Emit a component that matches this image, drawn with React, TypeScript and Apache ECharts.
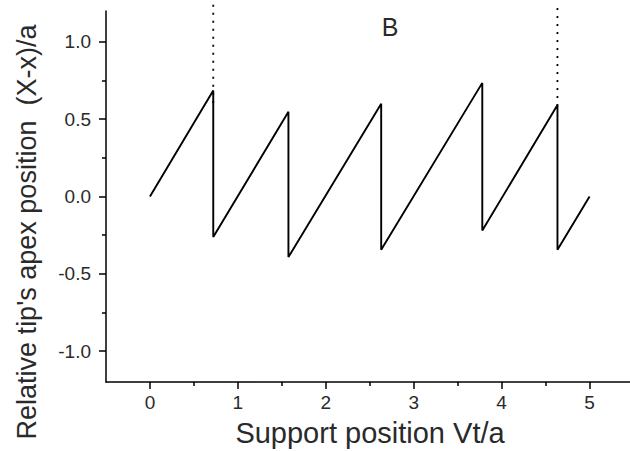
import React, { useEffect, useRef } from "react";
import * as echarts from "echarts";

// Sawtooth of the relative tip apex position vs support position
const sawX = [0, 0.72, 0.72, 1.575, 1.575, 2.63, 2.63, 3.78, 3.78, 4.635, 4.635, 5.0];
const sawY = [0, 0.685, -0.262, 0.548, -0.392, 0.6, -0.345, 0.735, -0.22, 0.592, -0.345, 0.0];

// Dotted vertical markers
const markX = [0.72, 4.635];
const markTop = [1.24, 1.22];
const markBottom = [0.57, 0.59];

const xMajor = [0, 1, 2, 3, 4, 5];
const xMinor = [0.5, 1.5, 2.5, 3.5, 4.5];
const yMajor = [-1.0, -0.5, 0.0, 0.5, 1.0];
const yMinor = [-0.75, -0.25, 0.25, 0.75];

const xTitle = "Support position Vt/a";
const yTitle = "Relative tip's apex position  (X-x)/a";
const panelLabel = "B";

const FONT = "'Liberation Sans', Arial, sans-serif";

export default function App() {
  const ref = useRef<HTMLDivElement>(null);
  useEffect(() => {
    if (!ref.current) return;
    const chart = echarts.init(ref.current, null, { renderer: "svg" });
    const axisCommon = { onZero: false, lineStyle: { color: "#000", width: 1.5 } };
    const xMin = -0.5, xMax = 5.46, yMin = -1.2, yMax = 1.2;
    const series: any[] = [
      {
        type: "line",
        data: sawX.map((x, i) => [x, sawY[i]]),
        symbol: "none",
        lineStyle: { color: "#000", width: 1.9 },
        clip: false,
      },
    ];
    markX.forEach((x, i) => {
      series.push({
        type: "line",
        data: [
          [x, markTop[i]],
          [x, markBottom[i]],
        ],
        symbol: "none",
        clip: false,
        lineStyle: { color: "#000", width: 1.8, type: [2, 6] },
      });
    });
    chart.setOption({
      animation: false,
      backgroundColor: "#fff",
      grid: { left: 106, top: 11, width: 524, height: 371, containLabel: false },
      xAxis: [
        {
          type: "value",
          min: xMin,
          max: xMax,
          axisLine: { show: true, ...axisCommon },
          axisTick: { show: true, customValues: xMajor, length: 7, lineStyle: { color: "#000", width: 1.5 } },
          axisLabel: {
            customValues: xMajor,
            fontSize: 19,
            fontFamily: FONT,
            color: "#2a2a2a",
            margin: 11,
            formatter: (v: number) => String(Math.round(v)),
          },
          splitLine: { show: false },
        },
        {
          type: "value",
          min: xMin,
          max: xMax,
          position: "bottom",
          axisLine: { show: false, onZero: false },
          axisTick: { show: true, customValues: xMinor, length: 4, lineStyle: { color: "#000", width: 1.5 } },
          axisLabel: { show: false },
          splitLine: { show: false },
        },
      ],
      yAxis: [
        {
          type: "value",
          min: yMin,
          max: yMax,
          axisLine: { show: true, ...axisCommon },
          axisTick: { show: true, customValues: yMajor, length: 7, lineStyle: { color: "#000", width: 1.5 } },
          axisLabel: {
            customValues: yMajor,
            fontSize: 19,
            fontFamily: FONT,
            color: "#2a2a2a",
            margin: 15,
            formatter: (v: number) => v.toFixed(1),
          },
          splitLine: { show: false },
        },
        {
          type: "value",
          min: yMin,
          max: yMax,
          position: "left",
          axisLine: { show: false, onZero: false },
          axisTick: { show: true, customValues: yMinor, length: 4, lineStyle: { color: "#000", width: 1.5 } },
          axisLabel: { show: false },
          splitLine: { show: false },
        },
      ],
      series,
      graphic: [
        {
          type: "text",
          x: 27,
          y: 232,
          rotation: Math.PI / 2,
          style: {
            text: yTitle,
            fontSize: 27,
            fontFamily: FONT,
            fill: "#2a2a2a",
            align: "center",
            verticalAlign: "middle",
          },
        },
        {
          type: "text",
          x: 370,
          y: 433,
          style: {
            text: xTitle,
            fontSize: 29,
            fontFamily: FONT,
            fill: "#2a2a2a",
            align: "center",
            verticalAlign: "middle",
          },
        },
        {
          type: "text",
          x: 390,
          y: 27,
          style: {
            text: panelLabel,
            fontSize: 25,
            fontFamily: FONT,
            fill: "#2a2a2a",
            align: "center",
            verticalAlign: "middle",
          },
        },
      ],
    });
    return () => chart.dispose();
  }, []);
  return <div ref={ref} style={{ width: 630, height: 451, position: "fixed", left: 0, top: 0 }} />;
}
